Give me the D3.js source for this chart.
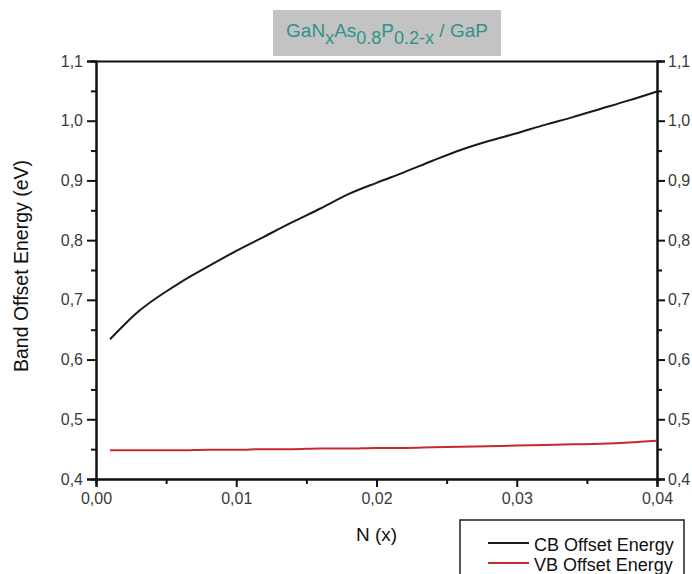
<!DOCTYPE html>
<html>
<head>
<meta charset="utf-8">
<script src="https://cdn.jsdelivr.net/npm/d3@7"></script>
<style>
  body { margin: 0; background: #fff; }
  svg { display: block; font-family: "Liberation Sans", Arial, sans-serif; }
</style>
</head>
<body>
<svg></svg>
<script>
// N content x
let xValues = [0.001, 0.002, 0.003, 0.004, 0.005, 0.006, 0.008, 0.010, 0.012, 0.014, 0.016, 0.018,
               0.020, 0.022, 0.024, 0.026, 0.028, 0.030, 0.032, 0.034, 0.036, 0.038, 0.040];
let cbValues = [0.634, 0.658, 0.680, 0.698, 0.714, 0.729, 0.756, 0.782, 0.806, 0.830, 0.853, 0.877,
                0.896, 0.914, 0.933, 0.951, 0.966, 0.979, 0.993, 1.006, 1.020, 1.034, 1.049];
let vbValues = [0.448, 0.448, 0.448, 0.448, 0.448, 0.448, 0.449, 0.449, 0.450, 0.450, 0.451, 0.451,
                0.452, 0.452, 0.453, 0.454, 0.455, 0.456, 0.457, 0.458, 0.459, 0.461, 0.464];
let seriesNames = ['CB Offset Energy', 'VB Offset Energy'];
let seriesColors = ['#1a1a1a', '#c62a2f'];

let xTicks = [0, 0.01, 0.02, 0.03, 0.04];
let yTicks = [0.4, 0.5, 0.6, 0.7, 0.8, 0.9, 1.0, 1.1];

let width = 692;
let height = 574;
let margin = { left: 96, right: 35, top: 61, bottom: 95 };

let svg = d3.select('svg').attr('width', width).attr('height', height);

let comma = d3.formatLocale({ decimal: ',', thousands: '.', grouping: [3], currency: ['', ''] });

let xScale = d3.scaleLinear()
    .domain([0, 0.04])
    .range([margin.left, width - margin.right]);

let yScale = d3.scaleLinear()
    .domain([0.4, 1.1])
    .range([height - margin.bottom, margin.top]);

// minor ticks
let xMinor = d3.axisBottom(xScale).tickValues(d3.range(0.005, 0.04, 0.01)).tickSize(5).tickFormat('');
let yMinorL = d3.axisLeft(yScale).tickValues(d3.range(0.45, 1.1, 0.1)).tickSize(5).tickFormat('');
let yMinorR = d3.axisRight(yScale).tickValues(d3.range(0.45, 1.1, 0.1)).tickSize(5).tickFormat('');

let xAxis = d3.axisBottom(xScale).tickValues(xTicks).tickSize(8).tickPadding(6).tickFormat(comma.format('.2f'));
let yAxisL = d3.axisLeft(yScale).tickValues(yTicks).tickSize(9).tickPadding(4).tickFormat(comma.format('.1f'));
let yAxisR = d3.axisRight(yScale).tickValues(yTicks).tickSize(8).tickPadding(3).tickFormat(comma.format('.1f'));

const styleAxis = (g) => {
    g.select('.domain').attr('stroke', '#111').attr('stroke-width', 2);
    g.selectAll('.tick line').attr('stroke', '#111').attr('stroke-width', 2);
    g.selectAll('.tick text').attr('fill', '#3a3a3a').style('font-size', '16px');
};

svg.append('g').attr('transform', `translate(0, ${height - margin.bottom})`).call(xMinor).call(styleAxis);
svg.append('g').attr('transform', `translate(${margin.left}, 0)`).call(yMinorL).call(styleAxis);
svg.append('g').attr('transform', `translate(${width - margin.right}, 0)`).call(yMinorR).call(styleAxis);

svg.append('g').attr('id', 'x-axis').attr('transform', `translate(0, ${height - margin.bottom})`).call(xAxis).call(styleAxis);
svg.append('g').attr('id', 'y-axis').attr('transform', `translate(${margin.left}, 0)`).call(yAxisL).call(styleAxis);
svg.append('g').attr('transform', `translate(${width - margin.right}, 0)`).call(yAxisR).call(styleAxis);

// top frame line
svg.append('g').attr('transform', `translate(0, ${margin.top})`)
    .call(d3.axisTop(xScale).tickValues([]).tickSizeOuter(0))
    .call(styleAxis);

// lines
let line = d3.line()
    .x((d, i) => xScale(xValues[i]))
    .y(d => yScale(d))
    .curve(d3.curveMonotoneX);

[cbValues, vbValues].forEach((vals, i) => {
    svg.append('path')
        .datum(vals)
        .attr('fill', 'none')
        .attr('stroke', seriesColors[i])
        .attr('stroke-width', 2)
        .attr('d', line);
});

// title box
svg.append('rect')
    .attr('x', 273).attr('y', 10).attr('width', 228).attr('height', 46)
    .attr('fill', '#c3c3c3');

let title = svg.append('text')
    .attr('x', 387).attr('y', 37)
    .attr('text-anchor', 'middle')
    .attr('fill', '#2e9488')
    .style('font-size', '19px');
title.append('tspan').text('GaN');
title.append('tspan').attr('dy', 7).style('font-size', '18px').text('x');
title.append('tspan').attr('dy', -7).text('As');
title.append('tspan').attr('dy', 7).style('font-size', '18px').text('0.8');
title.append('tspan').attr('dy', -7).text('P');
title.append('tspan').attr('dy', 7).style('font-size', '18px').text('0.2-x');
title.append('tspan').attr('dy', -7).text(' / GaP');

// axis titles
svg.append('text')
    .attr('x', xScale(0.02)).attr('y', 541)
    .attr('text-anchor', 'middle')
    .attr('fill', '#111')
    .style('font-size', '19px')
    .text('N (x)');

svg.append('text')
    .attr('transform', `translate(28, 266) rotate(-90)`)
    .attr('text-anchor', 'middle')
    .attr('fill', '#111')
    .style('font-size', '19.5px')
    .text('Band Offset Energy (eV)');

// legend
svg.append('rect')
    .attr('x', 460).attr('y', 520).attr('width', 224).attr('height', 70)
    .attr('fill', '#fff').attr('stroke', '#222').attr('stroke-width', 1.5);

seriesNames.forEach((name, i) => {
    let ly = 543 + i * 20;
    svg.append('line')
        .attr('x1', 488).attr('x2', 529).attr('y1', ly).attr('y2', ly)
        .attr('stroke', seriesColors[i]).attr('stroke-width', 2);
    svg.append('text')
        .attr('x', 534).attr('y', ly + 8)
        .attr('fill', '#111')
        .style('font-size', '18px')
        .text(name);
});
</script>
</body>
</html>
